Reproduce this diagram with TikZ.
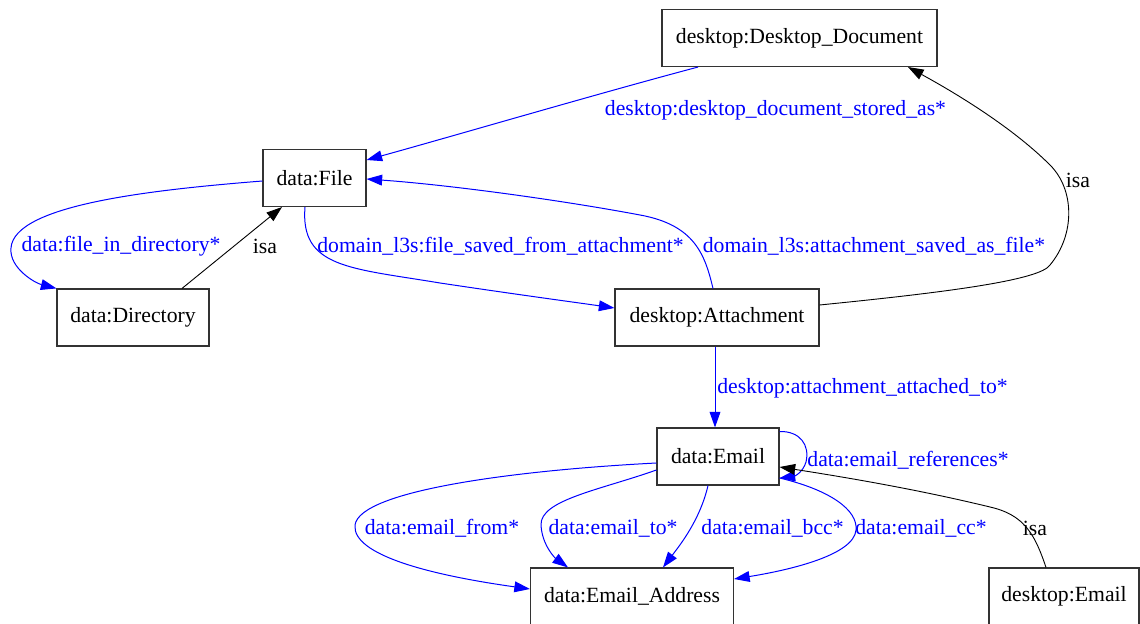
\documentclass[tikz,border=0pt]{standalone}
\usepackage{fontspec}
\setmainfont{Liberation Serif}
\usetikzlibrary{arrows.meta,calc}
\definecolor{edgeblue}{RGB}{0,0,255}
\begin{document}
\begin{tikzpicture}[x=0.5pt,y=-0.5pt,
  every node/.style={font=\fontsize{10.85}{13}\selectfont},
  cls/.style={draw=black!80, line width=0.55pt, rectangle, inner sep=0pt, minimum height=28.5pt, fill=white},
  rel/.style={edgeblue, line width=0.5pt, -{Triangle[length=7.8pt,width=5.4pt]}},
  isarel/.style={black, line width=0.45pt, -{Triangle[length=7.8pt,width=5.4pt]}},
  rellabel/.style={text=edgeblue, inner sep=0pt},
  isalabel/.style={text=black, inner sep=0pt}]

% canvas
\useasboundingbox[fill=white] (0,0) rectangle (1140,624);

% classes
\node[cls, minimum width=137.5pt] (dd) at (799.5,38) {desktop:Desktop\_Document};
\node[cls, minimum width=51.5pt] (file) at (314.5,178) {data:File};
\node[cls, minimum width=76pt] (dir) at (133,317.5) {data:Directory};
\node[cls, minimum width=102pt] (att) at (717,317.5) {desktop:Attachment};
\node[cls, minimum width=61pt] (email) at (718,456.5) {data:Email};
\node[cls, minimum width=101.5pt] (addr) at (632,596.5) {data:Email\_Address};
\node[cls, minimum width=75pt] (demail) at (1064,596.5) {desktop:Email};

% relations
\draw[rel] ([xshift=-50.75pt]dd.south) .. controls (600,93) and (450,137) .. ([yshift=9pt]file.east);
\node[rellabel] (lstored) at (775.5,110) {desktop:desktop\_document\_stored\_as*};

\draw[rel] ([yshift=-1.5pt]file.west) .. controls (150,190) and (14,205) .. (11,248)
  .. controls (9,268) and (35,283) .. (dir.north west);
\node[rellabel] (lindir) at (121,246) {data:file\_in\_directory*};

\draw[isarel] ([xshift=24.5pt]dir.north) -- ([xshift=-16.25pt]file.south);
\node[isalabel] (lisa1) at (265,246) {isa};

\draw[rel] ([xshift=-4.75pt]file.south) .. controls (300,268) and (350,268) .. (440,283)
  .. controls (520,295) and (580,303) .. ([yshift=4.75pt]att.west);
\node[rellabel] (lsavedfrom) at (500.5,246) {domain\_l3s:file\_saved\_from\_attachment*};

\draw[rel] ([xshift=-2pt]att.north) .. controls (705,255) and (695,225) .. (640,215)
  .. controls (560,200) and (450,185) .. ([yshift=-0.5pt]file.east);
\node[rellabel] (lsavedas) at (874,246) {domain\_l3s:attachment\_saved\_as\_file*};

\draw[isarel] ([yshift=6.25pt]att.east) .. controls (950,292) and (1040,280) .. (1050,265)
  .. controls (1075,235) and (1075,190) .. (1050,165)
  .. controls (1010,125) and (950,90) .. ([xshift=54.25pt]dd.south);
\node[isalabel] (lisa2) at (1078,180) {isa};

\draw[rel] ([xshift=-1pt]att.south) -- ([xshift=-1.5pt]email.north);
\node[rellabel] (lattached) at (862.5,388) {desktop:attachment\_attached\_to*};

\draw[rel] ([yshift=12.5pt]email.east) .. controls (800,431) and (810,445) .. (806,462)
  .. controls (803,472) and (795,476) .. ([yshift=-10.75pt]email.east);
\node[rellabel] (lrefs) at (908,460) {data:email\_references*};

\draw[isarel] ([xshift=-9pt]demail.north) .. controls (1035,535) and (1025,515) .. (990,507)
  .. controls (920,490) and (850,478) .. ([yshift=-5.25pt]email.east);
\node[isalabel] (lisa3) at (1035,528) {isa};

\draw[rel] ([yshift=-3.25pt]email.west) .. controls (520,470) and (360,490) .. (355,525)
  .. controls (352,555) and (430,575) .. ([yshift=3.75pt]addr.west);
\node[rellabel] (lfrom) at (442,528) {data:email\_from*};

\draw[rel] ([yshift=-6.75pt]email.west) .. controls (600,490) and (540,500) .. (541,525)
  .. controls (542,545) and (555,558) .. ([xshift=-32pt]addr.north);
\node[rellabel] (lto) at (613,528) {data:email\_to*};

\draw[rel] ([xshift=-5pt]email.south) .. controls (700,520) and (680,545) .. ([xshift=15.5pt]addr.north);
\node[rellabel] (lbcc) at (772.5,528) {data:email\_bcc*};

\draw[rel] ([yshift=-10.75pt]email.east) .. controls (830,490) and (858,510) .. (856,530)
  .. controls (854,555) and (790,570) .. ([yshift=8.75pt]addr.east);
\node[rellabel] (lcc) at (921,528) {data:email\_cc*};

\end{tikzpicture}
\end{document}
